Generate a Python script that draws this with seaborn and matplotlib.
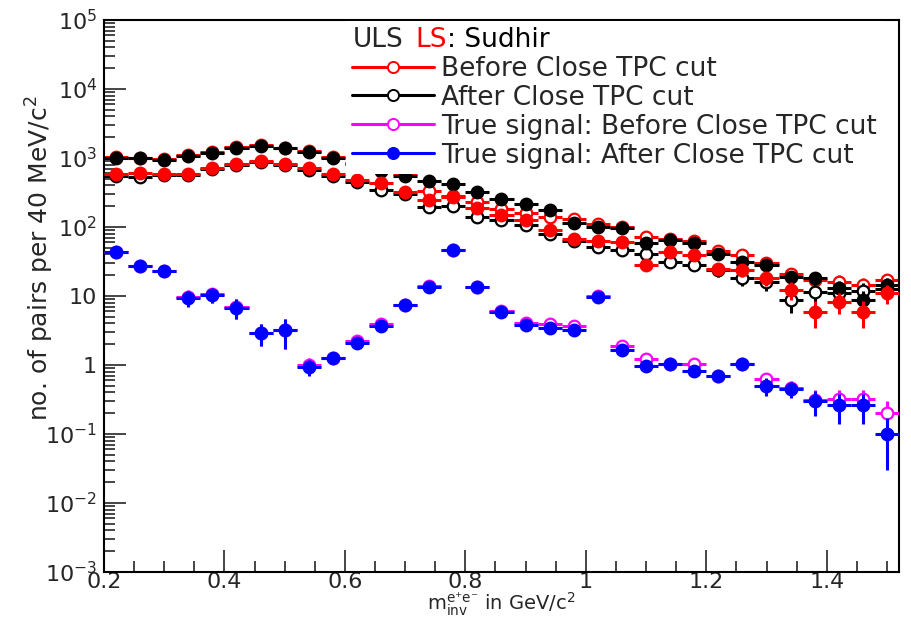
import numpy as np
import pandas as pd
import matplotlib
matplotlib.use('Agg')
import matplotlib.pyplot as plt
import seaborn as sns
from matplotlib.lines import Line2D
from matplotlib.ticker import FixedLocator, FixedFormatter, MultipleLocator, LogLocator, NullFormatter

# bin centres of the 40 MeV/c^2 invariant mass bins
mass = [0.22, 0.26, 0.30, 0.34, 0.38, 0.42, 0.46, 0.50, 0.54, 0.58,
        0.62, 0.66, 0.70, 0.74, 0.78, 0.82, 0.86, 0.90, 0.94, 0.98,
        1.02, 1.06, 1.10, 1.14, 1.18, 1.22, 1.26, 1.30, 1.34, 1.38,
        1.42, 1.46, 1.50]
half_bin = 0.02

# ULS before close TPC cut (red open)
uls_before = [1030, 1010, 960, 1090, 1230, 1420, 1540, 1410, 1250, 1030,
              850, 650, 590, 330, 285, 230, 180, 160, 140, 130,
              110, 100, 72, 68, 62, 45, 39, 30, 21, 17,
              16, 14.5, 17]
# ULS after close TPC cut (black open)
uls_after = [550, 535, 560, 570, 690, 780, 870, 780, 670, 555,
             455, 345, 300, 197, 200, 141, 128, 108, 80, 62,
             52, 46, 40, 31, 28, 24, 18, 16, 8.7, 11.6,
             11, 12, 12.5]
# LS (black full)
ls_before = [1000, 990, 940, 1070, 1200, 1380, 1500, 1380, 1220, 1000,
             830, 640, 550, 460, 420, 320, 255, 215, 176, 113,
             101, 97, 58, 65, 58, 40, 31, 28, 19, 18,
             13, 8.7, 14.5]
# LS (red full)
ls_after = [590, 612, 580, 590, 720, 810, 905, 815, 706, 580,
            480, 440, 325, 246, 270, 186, 149, 126, 90, 68,
            63, 61, 28, 44, 39, 25, 23.5, 18, 12.2, 5.9,
            8.3, 5.9, 10.9]

# true signal
true_before = [44, 27, 23, 9.6, 10.6, 6.9, 2.9, 3.2, 1.0, 1.25,
               2.2, 3.9, 7.5, 14, 47, 13.7, 6.0, 4.1, 3.9, 3.7,
               10, 1.9, 1.22, 1.02, 1.05, 0.7, 1.03, 0.62, 0.46, 0.31,
               0.32, 0.32, 0.2]
true_before_err = [3, 2.5, 2.4, 2.5, 2.6, 2.2, 1.0, 1.5, 0.25, 0.2,
                   0.3, 0.4, 0.6, 1.2, 3.5, 1.2, 0.5, 0.3, 0.3, 0.3,
                   0.9, 0.2, 0.15, 0.12, 0.15, 0.12, 0.1, 0.15, 0.12, 0.12,
                   0.12, 0.12, 0.1]
true_after = [43, 27, 23, 9.5, 10.5, 6.8, 2.9, 3.2, 0.95, 1.25,
              2.05, 3.7, 7.3, 13.5, 46, 13.5, 5.9, 3.8, 3.45, 3.25,
              9.8, 1.65, 0.97, 1.02, 0.82, 0.7, 1.02, 0.5, 0.45, 0.3,
              0.26, 0.26, 0.1]
true_after_err = [3, 2.5, 2.4, 2.5, 2.6, 2.2, 1.0, 1.5, 0.25, 0.2,
                  0.3, 0.4, 0.6, 1.2, 3.5, 1.2, 0.5, 0.3, 0.3, 0.3,
                  0.9, 0.15, 0.15, 0.12, 0.15, 0.12, 0.1, 0.15, 0.12, 0.12,
                  0.12, 0.12, 0.07]

# axis ticks
x_ticks = [0.2, 0.4, 0.6, 0.8, 1.0, 1.2, 1.4]
x_tick_labels = ['0.2', '0.4', '0.6', '0.8', '1', '1.2', '1.4']
y_ticks = [1e-3, 1e-2, 1e-1, 1, 10, 1e2, 1e3, 1e4, 1e5]
y_tick_labels = [r'$10^{-3}$', r'$10^{-2}$', r'$10^{-1}$', '1', '10',
                 r'$10^{2}$', r'$10^{3}$', r'$10^{4}$', r'$10^{5}$']

legend_labels = ['Before Close TPC cut', 'After Close TPC cut',
                 'True signal: Before Close TPC cut', 'True signal: After Close TPC cut']


def draw_hist(ax, y, yerr, color, filled, z):
    # ROOT style: horizontal bar = bin width, vertical bar = error
    ax.errorbar(mass, y, xerr=half_bin, yerr=yerr, fmt='none', ecolor=color,
                elinewidth=2.2, capsize=0, zorder=z)
    df = pd.DataFrame({'mass': mass, 'pairs': y})
    sns.scatterplot(data=df, x='mass', y='pairs', ax=ax, marker='o', s=70,
                    color=color if filled else 'white', edgecolor=color,
                    linewidth=1.6, zorder=z + 0.5, legend=False)


sns.set_style('ticks')
plt.rcParams['font.family'] = ['DejaVu Sans']
plt.rcParams['mathtext.default'] = 'regular'

fig = plt.figure(figsize=(9.12, 6.2), dpi=100)
ax = fig.add_axes([104 / 912, 1 - 572 / 620, 795 / 912, 552 / 620])
ax.set_yscale('log')

# open markers first, full markers on top
draw_hist(ax, uls_before, np.sqrt(uls_before), 'red', False, 2)
draw_hist(ax, uls_after, np.sqrt(uls_after), 'black', False, 3)
draw_hist(ax, true_before, true_before_err, 'magenta', False, 4)
draw_hist(ax, ls_before, np.sqrt(ls_before), 'black', True, 5)
draw_hist(ax, ls_after, np.sqrt(ls_after), 'red', True, 6)
draw_hist(ax, true_after, true_after_err, 'blue', True, 7)

ax.set_xlim(0.2, 1.52)
ax.set_ylim(1e-3, 1e5)

ax.xaxis.set_major_locator(FixedLocator(x_ticks))
ax.xaxis.set_major_formatter(FixedFormatter(x_tick_labels))
ax.xaxis.set_minor_locator(MultipleLocator(0.05))
ax.yaxis.set_major_locator(FixedLocator(y_ticks))
ax.yaxis.set_major_formatter(FixedFormatter(y_tick_labels))
ax.yaxis.set_minor_locator(LogLocator(base=10, subs=np.arange(2, 10), numticks=20))
ax.yaxis.set_minor_formatter(NullFormatter())

ax.tick_params(which='both', direction='in', top=False, right=False, width=1.2, labelsize=16)
ax.tick_params(which='major', length=16)
ax.tick_params(which='minor', length=8)
ax.tick_params(axis='x', pad=0)
ax.tick_params(axis='y', pad=5)
for sp in ax.spines.values():
    sp.set_linewidth(1.5)
    sp.set_color('black')

ax.set_xlabel('$m_{inv}^{e⁺e⁻}$ in GeV/$c^{2}$', fontsize=14, va='bottom')
ax.xaxis.set_label_coords(0.5, -(618 - 572) / 552)
ax.set_ylabel(r'no. of pairs per 40 MeV/$c^{2}$', fontsize=18, loc='top')
ax.yaxis.set_label_coords(-0.06, 0.864)

# legend with a white box like the ROOT TLegend
handles = [
    Line2D([], [], color='red', lw=2.2, marker='o', ms=8, mfc='white', mec='red', mew=1.4),
    Line2D([], [], color='black', lw=2.2, marker='o', ms=8, mfc='white', mec='black', mew=1.4),
    Line2D([], [], color='magenta', lw=2.2, marker='o', ms=8, mfc='white', mec='magenta', mew=1.4),
    Line2D([], [], color='blue', lw=2.2, marker='o', ms=8, mfc='blue', mec='blue', mew=1.4),
]
leg = ax.legend(handles, legend_labels, title='ULS', loc='upper left',
                bbox_to_anchor=(0.305, 0.998), frameon=True, framealpha=1,
                facecolor='white', edgecolor='none', fancybox=False,
                fontsize=19, title_fontsize=19, handlelength=3.1,
                handletextpad=0.27, labelspacing=0.11, borderpad=0.22,
                borderaxespad=0, alignment='left')
leg.set_zorder(10)
title = leg.get_title()
ls_text = ax.annotate('LS', xy=(1, 0), xycoords=title, xytext=(9, 0),
                      textcoords='offset points', va='bottom', ha='left',
                      color='red', fontsize=19, zorder=11)
ax.annotate(': Sudhir', xy=(1, 0), xycoords=ls_text, va='bottom', ha='left',
            color='black', fontsize=19, zorder=11)

fig.savefig('out.png', dpi=100)
